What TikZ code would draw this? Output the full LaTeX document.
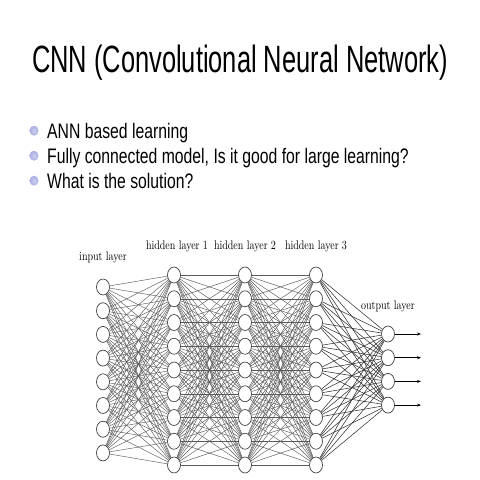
\documentclass[tikz,border=0pt]{standalone}
\usepackage{fontspec}
\usepackage{graphicx}
\usetikzlibrary{arrows.meta, shapes.geometric}
\newfontfamily\slidefont{Liberation Sans}
\definecolor{bulletlav}{HTML}{A9AEE2}
\definecolor{netgray}{HTML}{5A5A5A}

\begin{document}
\begin{tikzpicture}[x=1pt, y=-1pt,
    neuron/.style={draw=black!75, line width=0.7pt, ellipse, minimum width=13pt,
                   minimum height=16pt, inner sep=0pt},
    conn/.style={netgray, line width=0.45pt},
    outconn/.style={black!80, line width=0.55pt},
    outarr/.style={-{Stealth[length=4pt, width=3pt]}, line width=0.55pt},
    lbl/.style={inner sep=0pt},
    bulletdot/.style={ellipse, inner color=bulletlav!60, outer color=bulletlav,
                      minimum width=9pt, minimum height=10pt, inner sep=0pt}
  ]
    \useasboundingbox (0,0) rectangle (480,480);

    % Title and bullets
    \node[anchor=base, inner sep=0pt] (title) at (240,72)
      {\scalebox{0.67}[1]{\fontsize{38}{42}\slidefont CNN (Convolutional Neural Network)}};
    \foreach \t [count=\i] in {ANN based learning,
        {Fully connected model, Is it good for large learning?},
        What is the solution?} {
      \node[bulletdot] (dot\i) at (34, {105.7+\i*25}) {};
      \node[anchor=base west, inner sep=0pt] (item\i) at (47, {113+\i*25})
        {\scalebox{0.75}[1]{\fontsize{21}{24}\slidefont \t}};
    }

    % Layers
    \foreach \i in {1,...,8}
      \node[neuron] (in\i) at (103, {287+(\i-1)*23.7}) {};
    \foreach \l/\x in {1/174, 2/245, 3/316}
      \foreach \j in {1,...,9}
        \node[neuron] (h\l-\j) at (\x, {275+(\j-1)*23.75}) {};
    \foreach \k in {1,...,4}
      \node[neuron] (out\k) at (388, {334+(\k-1)*23.7}) {};

    % Connections
    \foreach \i in {1,...,8}
      \foreach \j in {1,...,9}
        \draw[conn] (in\i) -- (h1-\j);
    \foreach \a/\b in {1/2, 2/3}
      \foreach \i in {1,...,9}
        \foreach \j in {1,...,9}
          \draw[conn] (h\a-\i) -- (h\b-\j);
    \foreach \i in {1,...,9}
      \foreach \k in {1,...,4}
        \draw[outconn] (h3-\i) -- (out\k);
    \foreach \k in {1,...,4} {
      \coordinate (y\k) at (421, {334+(\k-1)*23.7});
      \draw[outarr] (out\k) -- (y\k);
    }

    % Layer labels
    \node[lbl] (inlbl) at (103,257)
      {\scalebox{1}[1.25]{\fontsize{10}{12}\selectfont input layer}};
    \foreach \l/\x in {1/177, 2/245, 3/316}
      \node[lbl] (hlbl\l) at (\x,246)
        {\scalebox{1}[1.25]{\fontsize{10}{12}\selectfont hidden layer \l}};
    \node[lbl] (outlbl) at (388,306)
      {\scalebox{1}[1.25]{\fontsize{10}{12}\selectfont output layer}};
  \end{tikzpicture}
\end{document}
